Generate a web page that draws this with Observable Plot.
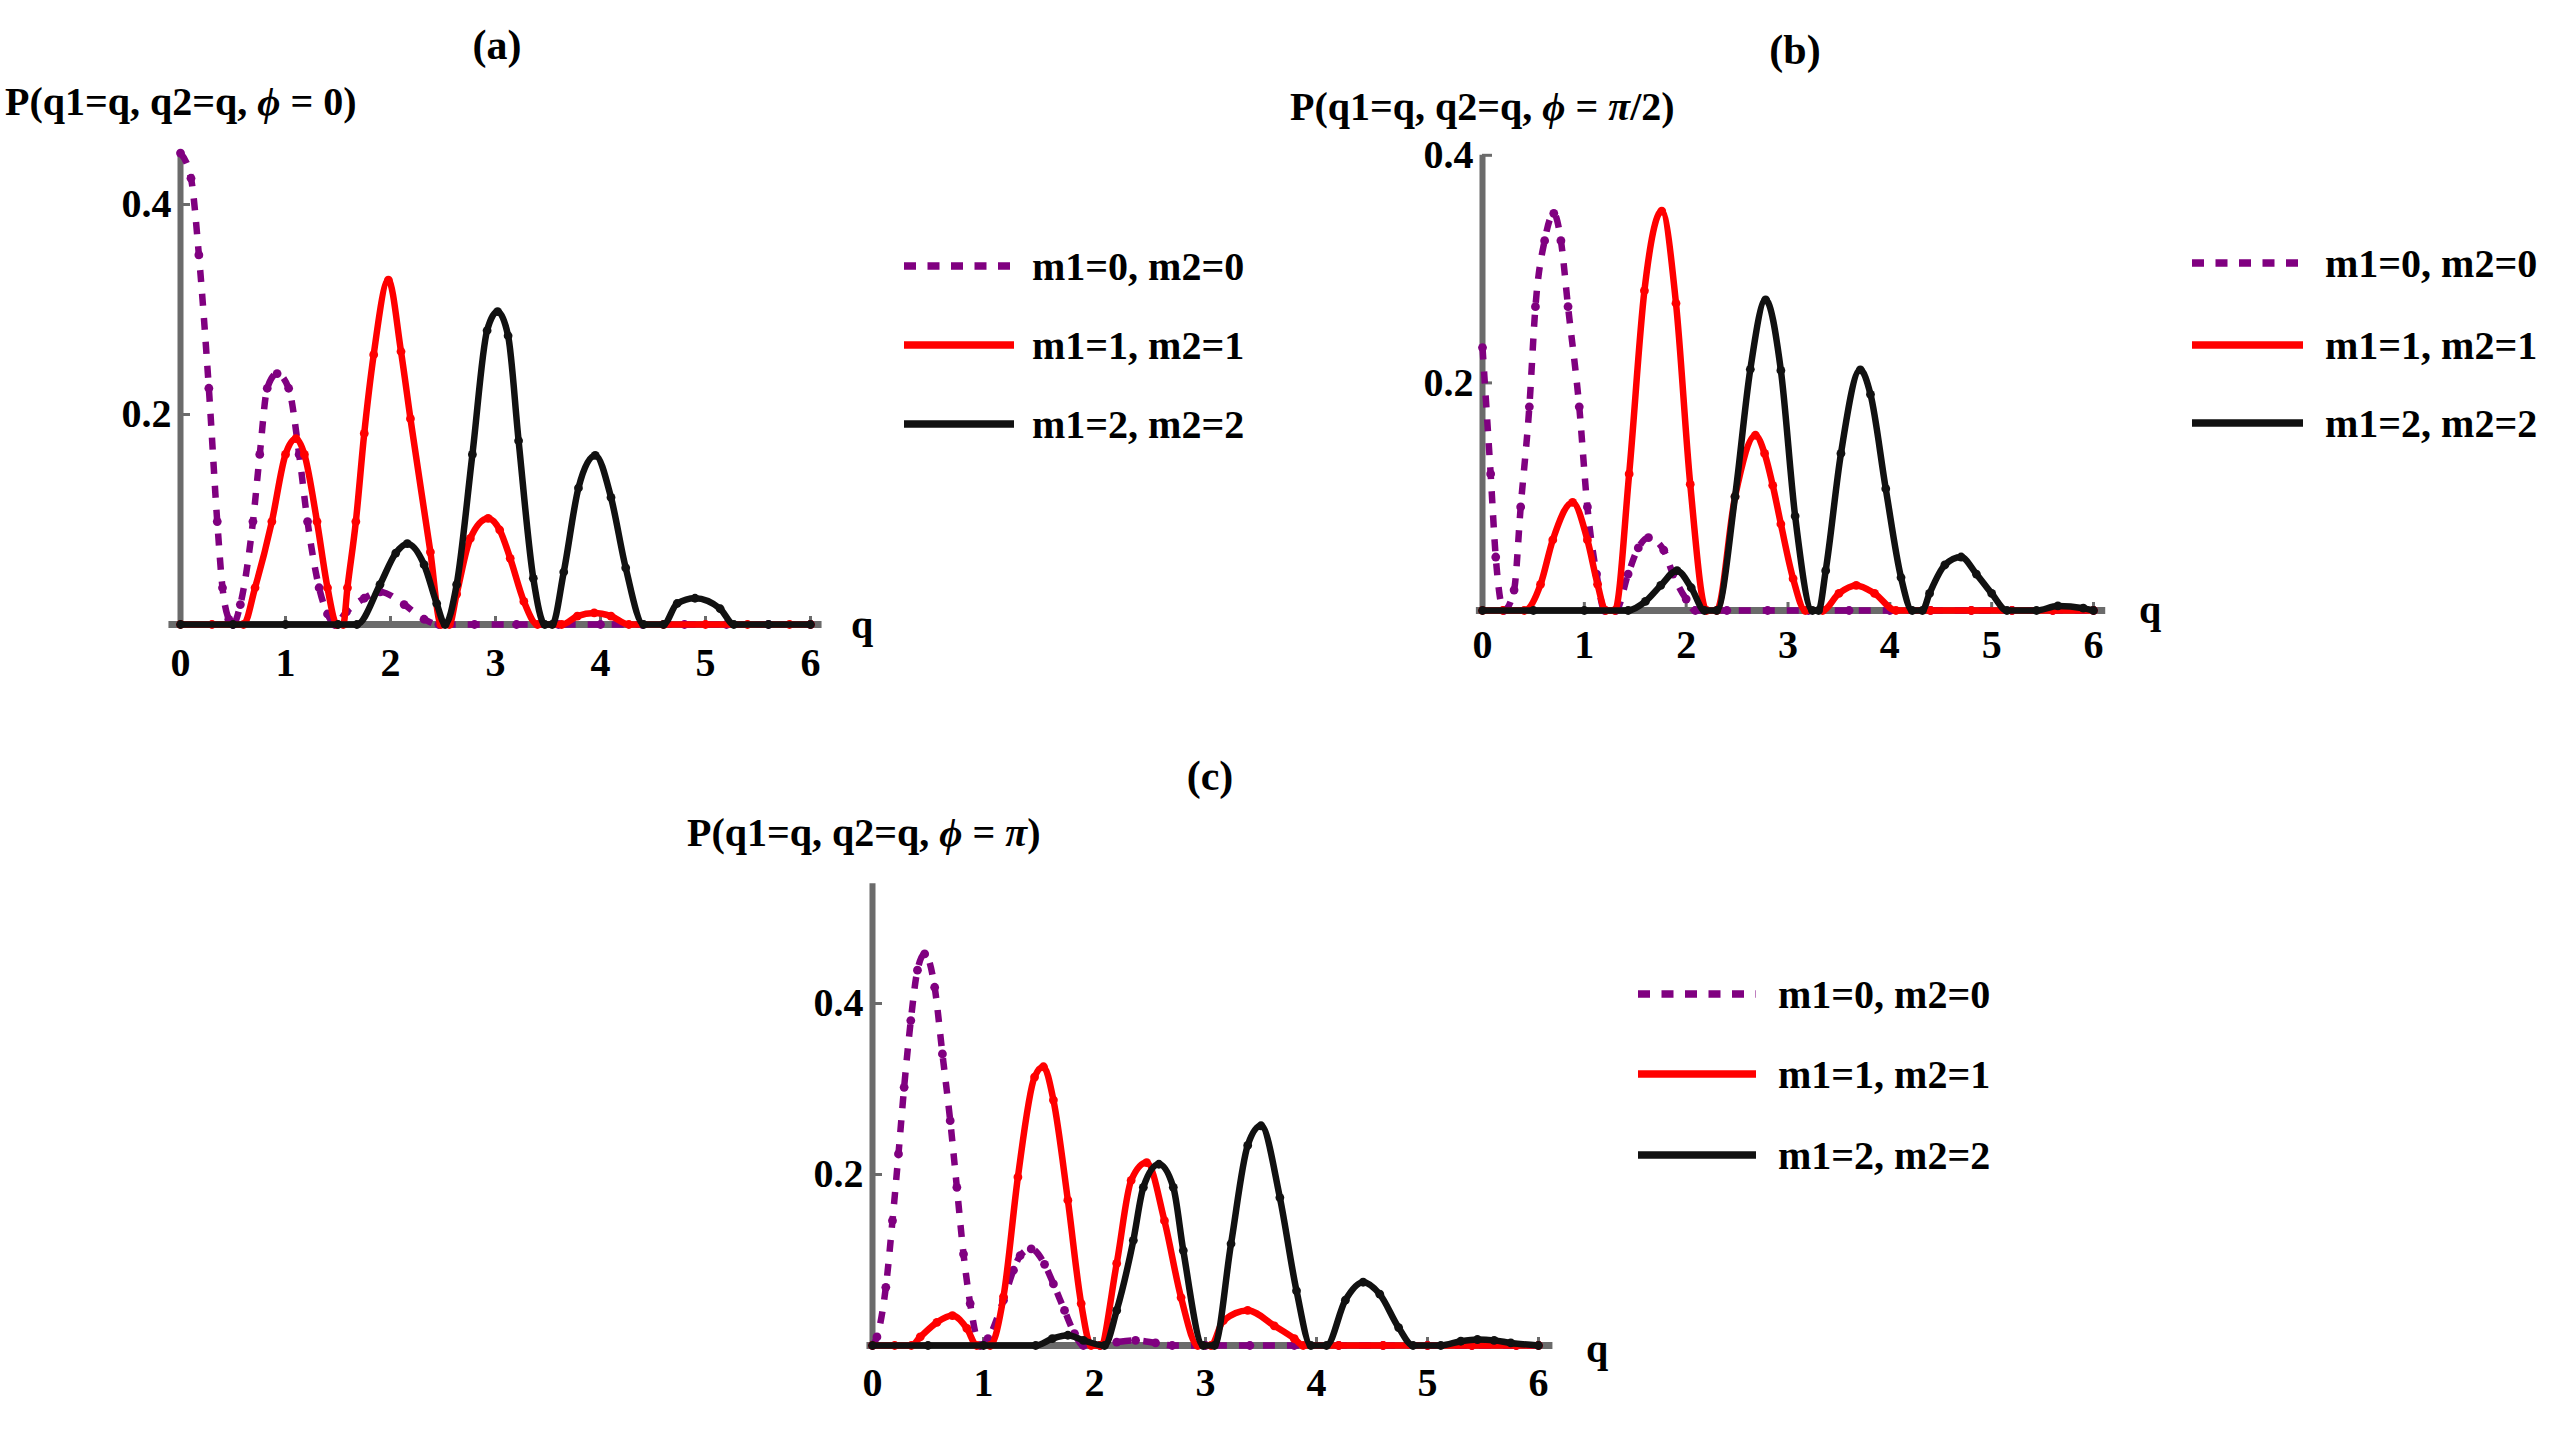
<!DOCTYPE html>
<html><head><meta charset="utf-8">
<script src="https://cdn.jsdelivr.net/npm/d3@7"></script>
<script src="https://cdn.jsdelivr.net/npm/@observablehq/plot@0.6"></script>
<style>
html,body{margin:0;padding:0;background:#fff;}
#root{position:relative;width:2550px;height:1432px;overflow:hidden;background:#fff;}
.panel{position:absolute;}
.panel svg{overflow:visible;max-width:none;}
</style></head><body><div id="root"></div>
<script>
// ---------- tick labels / categories ----------
const xTicks = [0, 1, 2, 3, 4, 5, 6];
const yTicks = [0.2, 0.4];
const seriesLabels = ["m1=0, m2=0", "m1=1, m2=1", "m1=2, m2=2"];
const panelTitles = ["(a)", "(b)", "(c)"];
const phiValues = ["0", "π/2", "π"];

// ---------- panel (a): phi = 0 ----------
const qA0 = [0, 0.1, 0.175, 0.27, 0.35, 0.40, 0.46, 0.5, 0.57, 0.69, 0.755, 0.826, 0.92, 1.03, 1.13, 1.21, 1.32, 1.40, 1.47, 1.58, 1.75, 1.90, 2.13, 2.32, 2.46, 2.8, 3.2, 3.6, 4.0, 4.4, 4.8, 5.2, 5.6, 6.0];
const pA0 = [0.449, 0.425, 0.352, 0.225, 0.098, 0.035, 0.005, 0, 0.019, 0.098, 0.162, 0.225, 0.239, 0.225, 0.162, 0.098, 0.035, 0.01, 0, 0.012, 0.025, 0.031, 0.019, 0.005, 0, 0, 0, 0, 0, 0, 0, 0, 0, 0];
const qA1 = [0, 0.3, 0.6, 0.71, 0.87, 1.0, 1.10, 1.18, 1.30, 1.40, 1.49, 1.55, 1.59, 1.67, 1.75, 1.84, 1.98, 2.10, 2.19, 2.38, 2.48, 2.56, 2.63, 2.76, 2.93, 3.04, 3.14, 3.27, 3.40, 3.63, 3.78, 3.94, 4.10, 4.27, 4.6, 5.0, 5.4, 5.8, 6.0];
const pA1 = [0, 0, 0, 0.035, 0.098, 0.162, 0.177, 0.162, 0.098, 0.035, 0, 0, 0.035, 0.098, 0.182, 0.257, 0.328, 0.26, 0.196, 0.069, 0, 0, 0.029, 0.082, 0.101, 0.09, 0.063, 0.022, 0, 0, 0.008, 0.011, 0.008, 0, 0, 0, 0, 0, 0];
const qA2 = [0, 0.5, 1.0, 1.5, 1.68, 1.90, 2.05, 2.16, 2.32, 2.44, 2.52, 2.63, 2.78, 2.92, 3.02, 3.12, 3.22, 3.36, 3.47, 3.54, 3.65, 3.79, 3.95, 4.10, 4.24, 4.41, 4.60, 4.73, 4.90, 5.14, 5.27, 5.6, 6.0];
const pA2 = [0, 0, 0, 0, 0, 0.038, 0.068, 0.077, 0.057, 0.02, 0, 0.038, 0.162, 0.28, 0.298, 0.275, 0.175, 0.044, 0, 0, 0.05, 0.13, 0.161, 0.121, 0.054, 0, 0, 0.02, 0.025, 0.015, 0, 0, 0];

// ---------- panel (b): phi = pi/2 ----------
const qB0 = [0, 0.08, 0.13, 0.21, 0.31, 0.375, 0.46, 0.52, 0.61, 0.70, 0.77, 0.84, 0.95, 1.03, 1.12, 1.20, 1.31, 1.43, 1.53, 1.63, 1.78, 1.87, 2.00, 2.09, 2.4, 2.8, 3.2, 3.6, 4.0, 4.4, 4.8, 5.2, 5.6, 6.0];
const pB0 = [0.231, 0.12, 0.047, 0, 0.018, 0.091, 0.179, 0.267, 0.325, 0.349, 0.325, 0.267, 0.179, 0.091, 0.032, 0, 0, 0.032, 0.055, 0.064, 0.053, 0.032, 0.01, 0, 0, 0, 0, 0, 0, 0, 0, 0, 0, 0];
const qB1 = [0, 0.2, 0.41, 0.57, 0.69, 0.885, 1.03, 1.13, 1.21, 1.30, 1.44, 1.59, 1.76, 1.90, 2.04, 2.20, 2.30, 2.48, 2.68, 2.77, 2.85, 2.93, 3.05, 3.17, 3.34, 3.50, 3.67, 3.85, 4.06, 4.4, 4.8, 5.2, 5.6, 6.0];
const pB1 = [0, 0, 0, 0.023, 0.062, 0.095, 0.062, 0.023, 0, 0, 0.12, 0.281, 0.351, 0.27, 0.111, 0, 0, 0.10, 0.154, 0.138, 0.11, 0.076, 0.028, 0, 0, 0.015, 0.022, 0.015, 0, 0, 0, 0, 0, 0];
const qB2 = [0, 0.5, 1.0, 1.43, 1.60, 1.75, 1.91, 2.05, 2.18, 2.30, 2.48, 2.63, 2.78, 2.93, 3.07, 3.24, 3.30, 3.37, 3.52, 3.71, 3.81, 3.96, 4.11, 4.22, 4.32, 4.39, 4.54, 4.70, 4.85, 5.00, 5.15, 5.44, 5.65, 5.90, 6.0];
const pB2 = [0, 0, 0, 0, 0.008, 0.022, 0.035, 0.02, 0, 0, 0.10, 0.212, 0.273, 0.211, 0.083, 0, 0, 0.035, 0.138, 0.2115, 0.19, 0.107, 0.029, 0, 0, 0.015, 0.04, 0.047, 0.032, 0.015, 0, 0, 0.004, 0.002, 0];

// ---------- panel (c): phi = pi ----------
const qC0 = [0, 0.04, 0.12, 0.18, 0.234, 0.285, 0.345, 0.405, 0.47, 0.56, 0.63, 0.70, 0.76, 0.82, 0.88, 0.97, 1.04, 1.18, 1.27, 1.33, 1.43, 1.55, 1.63, 1.73, 1.82, 1.90, 2.05, 2.2, 2.37, 2.55, 2.7, 3.0, 3.4, 3.8, 4.2, 4.6, 5.0, 5.4, 5.8, 6.0];
const pC0 = [0, 0.01, 0.068, 0.146, 0.224, 0.302, 0.38, 0.439, 0.458, 0.419, 0.341, 0.263, 0.185, 0.107, 0.049, 0, 0.008, 0.053, 0.088, 0.105, 0.113, 0.095, 0.072, 0.041, 0.014, 0, 0, 0.004, 0.006, 0.003, 0, 0, 0, 0, 0, 0, 0, 0, 0, 0];
const qC1 = [0, 0.2, 0.35, 0.43, 0.58, 0.72, 0.85, 0.94, 1.06, 1.18, 1.31, 1.46, 1.54, 1.63, 1.76, 1.88, 1.97, 2.05, 2.20, 2.33, 2.47, 2.63, 2.78, 2.93, 3.05, 3.16, 3.38, 3.62, 3.80, 3.88, 4.2, 4.6, 5.0, 5.4, 5.8, 6.0];
const pC1 = [0, 0, 0, 0.01, 0.027, 0.035, 0.02, 0, 0, 0.057, 0.197, 0.314, 0.326, 0.287, 0.17, 0.049, 0, 0, 0.096, 0.193, 0.214, 0.146, 0.056, 0, 0, 0.029, 0.041, 0.023, 0.008, 0, 0, 0, 0, 0, 0, 0];
const qC2 = [0, 0.5, 1.0, 1.47, 1.62, 1.76, 1.90, 2.09, 2.20, 2.35, 2.44, 2.58, 2.71, 2.80, 2.98, 3.08, 3.23, 3.38, 3.50, 3.67, 3.82, 3.95, 4.09, 4.26, 4.42, 4.57, 4.74, 4.87, 5.12, 5.3, 5.45, 5.6, 5.75, 6.0];
const pC2 = [0, 0, 0, 0, 0.008, 0.012, 0.006, 0, 0.041, 0.123, 0.185, 0.212, 0.185, 0.111, 0, 0, 0.119, 0.234, 0.257, 0.173, 0.064, 0, 0, 0.053, 0.074, 0.06, 0.021, 0, 0, 0.005, 0.007, 0.006, 0.003, 0];

// ---------- styling ----------
const COLORS = ["#800080", "#ff0000", "#111111"];
const GRAY = "#6b6b6b";
const FONT = "'Liberation Serif', 'Times New Roman', serif";
const FS = 40;

const panels = [
  {series: [[qA0, pA0], [qA1, pA1], [qA2, pA2]], left: 0, top: 0, width: 900, height: 720,
   mL: 180, mR: 90, mT: 151.5, mB: 96, yMax: 0.45, x1: -0.11, x2: 6.11, pad: 23,
   title: [497, 58.9], ylab: [5, 115.4], qlab: [862, 638],
   leg: {x1: 904, x2: 1014, tx: 1032, ys: [266, 345, 424]}},
  {series: [[qB0, pB0], [qB1, pB1], [qB2, pB2]], left: 1400, top: 0, width: 800, height: 700,
   mL: 82, mR: 107, mT: 154.8, mB: 90, yMax: 0.4, x1: -0.06, x2: 6.12, pad: 19,
   title: [1795, 63.9], ylab: [1290, 120.4], qlab: [2150, 623],
   leg: {x1: 2192, x2: 2303, tx: 2325, ys: [263, 345, 423]}},
  {series: [[qC0, pC0], [qC1, pC1], [qC2, pC2]], left: 800, top: 850, width: 800, height: 580,
   mL: 72, mR: 62, mT: 33.3, mB: 85, yMax: 0.54, x1: -0.05, x2: 6.13, pad: 22,
   title: [1210, 789.9], ylab: [687, 846.4], qlab: [1597, 1362],
   leg: {x1: 1638, x2: 1756, tx: 1778, ys: [994, 1074, 1155]}}
];

const root = document.getElementById("root");

panels.forEach((P, pi) => {
  const marks = [
    Plot.ruleY([0], {x1: P.x1, x2: P.x2, stroke: GRAY, strokeWidth: 7}),
    Plot.ruleX([0], {y1: 0, y2: P.yMax, stroke: GRAY, strokeWidth: 6}),
    Plot.axisX(xTicks, {tickSize: 8, dy: -8, fill: "none", stroke: GRAY, strokeWidth: 3}),
    Plot.axisY(yTicks, {tickSize: 10, dx: 10, fill: "none", stroke: GRAY, strokeWidth: 3}),
    Plot.axisX(xTicks, {tickSize: 0, tickPadding: P.pad, label: null, fill: "black",
      fontSize: FS, fontWeight: "bold", fontFamily: FONT}),
    Plot.axisY(yTicks, {tickSize: 0, tickPadding: 9, label: null, fill: "black",
      tickFormat: d => d.toFixed(1), fontSize: FS, fontWeight: "bold", fontFamily: FONT})
  ];
  P.series.forEach(([qs, ps], si) => {
    const rows = qs.map((q, i) => ({q, p: ps[i]}));
    marks.push(Plot.line(rows, {x: "q", y: "p", stroke: COLORS[si], strokeWidth: 6.5,
      curve: "monotone-x", strokeDasharray: si === 0 ? "12,12" : null, strokeLinecap: "butt"}));
    marks.push(Plot.dot(rows, {x: "q", y: "p", r: 4.4, fill: COLORS[si], stroke: "none"}));
  });
  const svg = Plot.plot({
    width: P.width, height: P.height,
    marginLeft: P.mL, marginRight: P.mR, marginTop: P.mT, marginBottom: P.mB,
    x: {domain: [0, 6], label: null},
    y: {domain: [0, P.yMax], label: null},
    style: {background: "transparent", overflow: "visible", maxWidth: "none", fontFamily: FONT},
    marks
  });
  const div = document.createElement("div");
  div.className = "panel";
  div.style.left = P.left + "px";
  div.style.top = P.top + "px";
  div.style.width = P.width + "px";
  div.style.height = P.height + "px";
  div.appendChild(svg);
  root.appendChild(div);
});

// ---------- overlay: titles, axis labels, legends ----------
const ov = d3.select(root).append("svg")
  .attr("width", 2550).attr("height", 1432)
  .style("position", "absolute").style("left", "0px").style("top", "0px")
  .style("pointer-events", "none")
  .attr("font-family", FONT).attr("font-weight", "bold").attr("font-size", FS);

panels.forEach((P, pi) => {
  ov.append("text").attr("x", P.title[0]).attr("y", P.title[1])
    .attr("text-anchor", "middle").attr("font-size", 42).text(panelTitles[pi]);

  const yl = ov.append("text").attr("x", P.ylab[0]).attr("y", P.ylab[1]);
  yl.append("tspan").text("P(q1=q, q2=q, ");
  yl.append("tspan").attr("font-style", "italic").text("ϕ");
  yl.append("tspan").text(" = ");
  const v = phiValues[pi];
  if (v.startsWith("π")) {
    yl.append("tspan").attr("font-style", "italic").text("π");
    yl.append("tspan").text(v.slice(1) + ")");
  } else {
    yl.append("tspan").text(v + ")");
  }

  ov.append("text").attr("x", P.qlab[0]).attr("y", P.qlab[1])
    .attr("text-anchor", "middle").text("q");

  P.leg.ys.forEach((yy, si) => {
    ov.append("line").attr("x1", P.leg.x1).attr("x2", P.leg.x2)
      .attr("y1", yy).attr("y2", yy)
      .attr("stroke", COLORS[si]).attr("stroke-width", 7.5)
      .attr("stroke-dasharray", si === 0 ? "12,11.5" : null);
    ov.append("text").attr("x", P.leg.tx).attr("y", yy + 13.6).text(seriesLabels[si]);
  });
});
</script></body></html>
